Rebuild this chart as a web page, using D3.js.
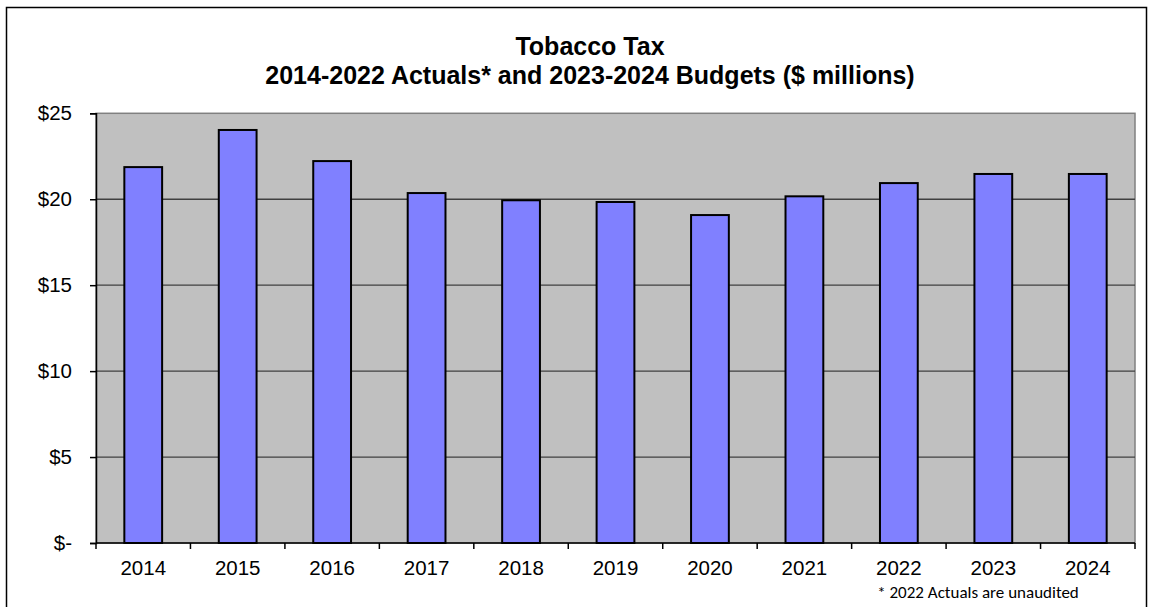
<!DOCTYPE html>
<html><head><meta charset="utf-8">
<script src="https://cdn.jsdelivr.net/npm/d3@7"></script>
<style>body{margin:0;background:#fff}svg{display:block}</style>
</head><body>
<svg id="c" width="1150" height="607"></svg>
<script>
const years = ["2014","2015","2016","2017","2018","2019","2020","2021","2022","2023","2024"];
const revenue = [21.87, 24.03, 22.22, 20.36, 19.94, 19.84, 19.08, 20.17, 20.94, 21.47, 21.47];
const yTicks = [0, 5, 10, 15, 20, 25];
const yTickLabels = ["$-", "$5", "$10", "$15", "$20", "$25"];
const titleLines = ["Tobacco Tax", "2014-2022 Actuals* and 2023-2024 Budgets ($ millions)"];
const footnote = "* 2022 Actuals are unaudited";

const svg = d3.select("#c");
const L = 96, R = 1135, T = 113.3, B = 543;

svg.append("rect").attr("x",6.5).attr("y",7.5).attr("width",1140).attr("height",620)
  .attr("fill","#fff").attr("stroke","#000").attr("stroke-width",1.5);

const x = d3.scaleBand().domain(years).range([L,R]).paddingInner(0.6).paddingOuter(0.3);
const y = d3.scaleLinear().domain([0,25]).range([B,T]);

svg.append("rect").attr("x",L).attr("y",T).attr("width",R-L).attr("height",B-T)
  .attr("fill","#C0C0C0").attr("stroke","#808080").attr("stroke-width",1.5);

svg.append("g").selectAll("line").data(yTicks.filter(d=>d>0&&d<25)).join("line")
  .attr("x1",L).attr("x2",R).attr("y1",d=>y(d)).attr("y2",d=>y(d))
  .attr("stroke","#404040").attr("stroke-width",1.3);

svg.append("g").selectAll("rect").data(years).join("rect")
  .attr("x",d=>x(d)).attr("width",x.bandwidth())
  .attr("y",(d,i)=>y(revenue[i])).attr("height",(d,i)=>B-y(revenue[i]))
  .attr("fill","#8080FF").attr("stroke","#000").attr("stroke-width",2);

// Y axis
const ya = svg.append("g").attr("transform",`translate(${L},0)`)
  .call(d3.axisLeft(y).tickValues(yTicks).tickSize(6).tickPadding(18)
    .tickFormat((d,i)=>yTickLabels[i]));
ya.select(".domain").attr("stroke","#000").attr("stroke-width",1.5);
ya.selectAll(".tick line").attr("stroke","#000").attr("stroke-width",1.5);
ya.selectAll(".tick text").attr("font-family","Arial, 'Liberation Sans', sans-serif")
  .attr("font-size",20.5).attr("fill","#000");

// X axis with ticks at category boundaries
const xa = svg.append("g").attr("transform",`translate(0,${B})`);
xa.append("line").attr("x1",L).attr("x2",R).attr("stroke","#000").attr("stroke-width",1.5);
const step = (R-L)/years.length;
xa.selectAll("line.t").data(d3.range(years.length+1)).join("line").attr("class","t")
  .attr("x1",i=>L+i*step).attr("x2",i=>L+i*step).attr("y1",0).attr("y2",6)
  .attr("stroke","#000").attr("stroke-width",1.5);
xa.selectAll("text").data(years).join("text")
  .attr("x",d=>x(d)+x.bandwidth()/2).attr("y",32)
  .attr("text-anchor","middle").attr("font-family","Arial, 'Liberation Sans', sans-serif")
  .attr("font-size",20.5).attr("fill","#000").text(d=>d);

// Title
svg.selectAll("text.title").data(titleLines).join("text").attr("class","title")
  .attr("x",590).attr("y",(d,i)=>55+i*29).attr("text-anchor","middle")
  .attr("font-family","Arial, 'Liberation Sans', sans-serif").attr("font-weight","bold")
  .attr("font-size",25).attr("fill","#000").text(d=>d);

svg.append("text").attr("x",978).attr("y",598).attr("text-anchor","middle")
  .attr("font-family","Carlito, 'Open Sans', sans-serif").attr("font-size",17)
  .attr("fill","#000").text(footnote);
</script>
</body></html>
